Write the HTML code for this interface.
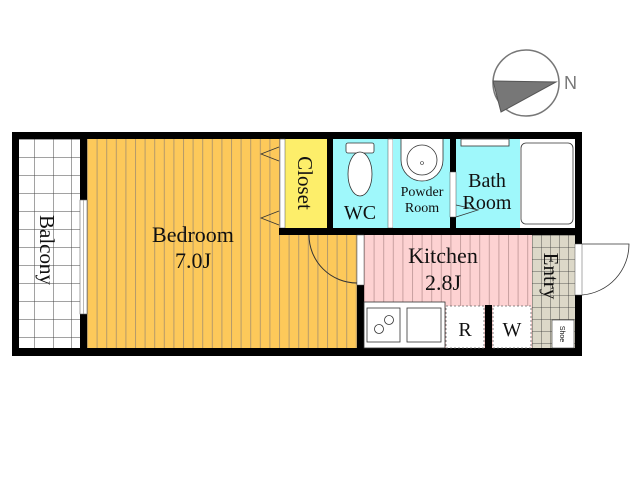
<!DOCTYPE html>
<html><head><meta charset="utf-8"><style>
html,body{margin:0;padding:0;background:#fff;width:640px;height:480px;overflow:hidden}
svg{display:block}
text{font-family:"Liberation Serif",serif;fill:#111}
</style></head><body>
<svg width="640" height="480" viewBox="0 0 640 480" xmlns="http://www.w3.org/2000/svg">
<defs>
<pattern id="bed" width="9.6" height="10" patternUnits="userSpaceOnUse" x="87">
<rect width="9.6" height="10" fill="#fdc95a"/><line x1="0.5" y1="0" x2="0.5" y2="10" stroke="#b59a6a" stroke-width="1"/></pattern>
<pattern id="kit" width="9.6" height="10" patternUnits="userSpaceOnUse" x="364">
<rect width="9.6" height="10" fill="#fdd2d2"/><line x1="0.5" y1="0" x2="0.5" y2="10" stroke="#c8a0a0" stroke-width="1"/></pattern>
<pattern id="bal" width="18.5" height="18" patternUnits="userSpaceOnUse" x="16" y="139">
<rect width="18.5" height="18" fill="#fff"/><path d="M0 0V18M0 0H18.5" stroke="#444" stroke-width="1" fill="none"/></pattern>
<pattern id="ent" width="9" height="12" patternUnits="userSpaceOnUse" x="532" y="235">
<rect width="9" height="12" fill="#dcd8c8"/><path d="M0 0V12M0 0H9" stroke="#333" stroke-width="0.8" fill="none"/></pattern>
</defs>

<circle cx="526" cy="83" r="33" fill="#fff" stroke="#777" stroke-width="1.5"/>
<polygon points="493,81 556,82 501,112" fill="#777" stroke="#555"/>
<text x="564" y="89" font-size="18" style="font-family:'Liberation Sans',sans-serif;fill:#777">N</text>

<rect x="12" y="132" width="570" height="224" fill="#000"/>
<rect x="19" y="139" width="61" height="209" fill="url(#bal)"/>
<rect x="87" y="139" width="270" height="209" fill="url(#bed)"/>
<rect x="285" y="139" width="42" height="89" fill="#fdee6a"/>
<rect x="280" y="139" width="5" height="89" fill="#fff" stroke="#555" stroke-width="0.5"/>
<rect x="333" y="139" width="55" height="89" fill="#9ff8fb"/>
<rect x="388" y="139" width="5" height="89" fill="#fff" stroke="#555" stroke-width="0.5"/>
<rect x="393" y="139" width="57" height="89" fill="#9ff8fb"/>
<rect x="456" y="139" width="64" height="89" fill="#9ff8fb"/>
<rect x="520" y="139" width="55" height="89" fill="#fff"/>
<rect x="364" y="235" width="168" height="113" fill="url(#kit)"/>
<rect x="532" y="235" width="43" height="113" fill="url(#ent)"/>
<rect x="279" y="228" width="85" height="7" fill="#000"/>
<rect x="357" y="235" width="7" height="113" fill="#000"/>
<rect x="357" y="235" width="7" height="50" fill="#fff" stroke="#555" stroke-width="0.5"/>
<rect x="327" y="139" width="6" height="89" fill="#000"/>
<rect x="450" y="139" width="6" height="89" fill="#000"/>
<rect x="450" y="172" width="6" height="45" fill="#fff" stroke="#555" stroke-width="0.5"/>
<rect x="364" y="228" width="218" height="7" fill="#000"/>
<rect x="80" y="200" width="7" height="114" fill="#fff" stroke="#666" stroke-width="0.6"/>
<line x1="83.5" y1="200" x2="83.5" y2="314" stroke="#888" stroke-width="0.6"/>
<polyline points="279,147 261,154 279,161" fill="none" stroke="#333" stroke-width="0.8"/>
<polyline points="279,211 261,218 279,225" fill="none" stroke="#333" stroke-width="0.8"/>
<path d="M309 235 A48 48 0 0 0 357 283" fill="none" stroke="#333" stroke-width="1"/>
<rect x="346" y="143" width="28" height="10" rx="2" fill="#fff" stroke="#333" stroke-width="0.8"/>
<ellipse cx="360" cy="174" rx="12" ry="22" fill="#fff" stroke="#333" stroke-width="0.8"/>
<path d="M401 139 V160 A21 21 0 0 0 443 160 V139" fill="#fff" stroke="#333" stroke-width="0.8"/>
<circle cx="422" cy="160" r="15" fill="#fff" stroke="#333" stroke-width="0.8"/>
<circle cx="422" cy="163" r="1.5" fill="none" stroke="#333" stroke-width="0.6"/>
<rect x="461" y="139" width="48" height="7" fill="#fff" stroke="#333" stroke-width="0.8"/>
<rect x="521" y="143" width="52" height="81" rx="5" fill="#fff" stroke="#333" stroke-width="0.8"/>
<polyline points="456,205 478,210 456,217" fill="none" stroke="#333" stroke-width="0.8"/>
<rect x="364" y="302" width="81" height="46" fill="#fff" stroke="#333" stroke-width="0.8"/>
<rect x="367" y="308" width="33" height="34" fill="#fff" stroke="#333" stroke-width="0.8"/>
<circle cx="379" cy="329" r="4.5" fill="none" stroke="#333" stroke-width="0.8"/>
<circle cx="389" cy="320" r="4.5" fill="none" stroke="#333" stroke-width="0.8"/>
<rect x="407" y="308" width="34" height="34" fill="#fff" stroke="#333" stroke-width="0.8"/>
<rect x="446" y="306" width="38" height="42" fill="#fff" stroke="#666" stroke-width="0.8" stroke-dasharray="2,2"/>
<rect x="485" y="305" width="7" height="43" fill="#000"/>
<rect x="493" y="306" width="38" height="42" fill="#fff" stroke="#666" stroke-width="0.8" stroke-dasharray="2,2"/>
<rect x="552" y="320" width="22" height="28" fill="#fff" stroke="#333" stroke-width="0.6"/>
<path d="M582 244 H629 A51 51 0 0 1 582 295" fill="#fff" stroke="#333" stroke-width="0.8"/>
<rect x="575" y="244" width="7" height="51" fill="#fff" stroke="#555" stroke-width="0.5"/>

<text x="193" y="242" font-size="22" text-anchor="middle">Bedroom</text>
<text x="193" y="268" font-size="22" text-anchor="middle">7.0J</text>
<text transform="translate(40,250) rotate(90)" font-size="21" text-anchor="middle">Balcony</text>
<text transform="translate(298,183) rotate(90)" font-size="21" text-anchor="middle">Closet</text>
<text x="360" y="219" font-size="20" text-anchor="middle">WC</text>
<text x="422" y="196" font-size="14" text-anchor="middle">Powder</text>
<text x="422" y="212" font-size="14" text-anchor="middle">Room</text>
<text x="487" y="187" font-size="20" text-anchor="middle">Bath</text>
<text x="487" y="209" font-size="20" text-anchor="middle">Room</text>
<text x="443" y="263" font-size="22" text-anchor="middle">Kitchen</text>
<text x="443" y="290" font-size="22" text-anchor="middle">2.8J</text>
<text transform="translate(544,276) rotate(90)" font-size="21" text-anchor="middle">Entry</text>
<text x="465" y="336" font-size="20" text-anchor="middle">R</text>
<text x="512" y="336" font-size="20" text-anchor="middle">W</text>
<text transform="translate(560,334) rotate(90)" font-size="7" text-anchor="middle" style="font-family:'Liberation Sans',sans-serif">Shoe</text>
</svg>
</body></html>
